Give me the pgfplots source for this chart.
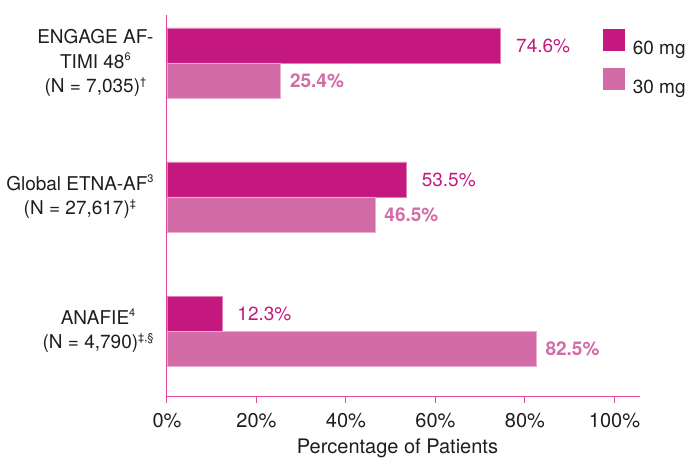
\documentclass[border=0pt]{standalone}
\usepackage{fontspec}
\setmainfont{TeX Gyre Heros}
\usepackage{pgfplots}
\pgfplotsset{compat=1.18}
\definecolor{c60}{RGB}{196,24,127}
\definecolor{c30}{RGB}{211,107,167}
\definecolor{axc}{RGB}{226,72,158}
\definecolor{txt}{RGB}{30,30,30}
\newcommand\sups[1]{\raisebox{0.75ex}{\fontsize{11}{12}\selectfont #1}}
\begin{document}
\begin{tikzpicture}[font=\fontsize{20}{24.5}\selectfont]
\path[use as bounding box] (-167pt,-65pt) rectangle (526pt,396pt);
\begin{axis}[
  at={(0,0)}, anchor=south west,
  scale only axis, width=473pt, height=381pt,
  xmin=0, xmax=105.7, ymin=-0.485, ymax=2.358,
  axis lines=left,
  axis line style={axc, line width=1pt, -},
  /pgf/number format/assume math mode=true,
  xtick={0,20,40,60,80,100},
  xticklabel={\pgfmathprintnumber{\tick}\%},
  xtick style={axc, line width=1pt},
  major tick length=7pt, tick align=outside,
  xticklabel style={text=txt, yshift=-7pt},
  ytick={0,1,2},
  yticklabels={{ANAFIE\sups{4}\\(N = 4,790)\sups{‡,§}},
               {Global ETNA-AF\sups{3}\\(N = 27,617)\sups{‡}},
               {ENGAGE AF-\\TIMI 48\sups{6}\\(N = 7,035)\sups{†}}},
  yticklabel style={align=center, text=txt, xshift=-3pt, font=\fontsize{19}{24.5}\selectfont},
  ytick style={draw=none},
  xlabel={Percentage of Patients},
  xlabel style={text=txt, yshift=-4pt, xshift=-6pt},
  xbar, bar width=35pt,
  point meta=x,
  legend style={draw=none, fill=none, at={(0.9218,0.9633)}, anchor=north west,
    inner sep=0pt, outer sep=0pt, row sep=12pt, column sep=8pt,
    nodes={inner sep=0pt, text=txt, font=\fontsize{19}{22}\selectfont}},
  legend cell align=left,
]
\addplot[fill=c60, draw=c60!55!white, line width=0.8pt, bar shift=17.5pt,
  nodes near coords={\pgfmathprintnumber[fixed,fixed zerofill,precision=1]{\pgfplotspointmeta}\%},
  nodes near coords style={anchor=west, inner sep=0pt, xshift=15pt, text=c60, font=\fontsize{19}{22}\selectfont},
  legend image code/.code={\fill[c60] (0pt,-2pt) rectangle (21pt,19pt);}]
  coordinates {(12.3,0) (53.5,1) (74.6,2)};
\addlegendentry{60 mg}
\addplot[fill=c30, draw=c30!55!white, line width=0.8pt, bar shift=-17.5pt,
  nodes near coords={\pgfmathprintnumber[fixed,fixed zerofill,precision=1]{\pgfplotspointmeta}\%},
  nodes near coords style={anchor=west, inner sep=0pt, xshift=9pt, text=c30, font=\fontsize{19}{22}\selectfont\bfseries},
  legend image code/.code={\fill[c30] (0pt,-2pt) rectangle (21pt,19pt);}]
  coordinates {(82.5,0) (46.5,1) (25.4,2)};
\addlegendentry{30 mg}
\end{axis}
\end{tikzpicture}
\end{document}
